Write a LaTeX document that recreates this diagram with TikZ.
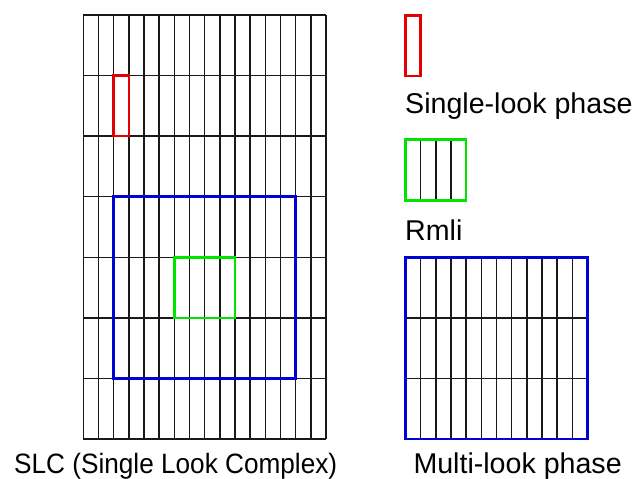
\documentclass[tikz,border=0pt]{standalone}
\usepackage{graphicx}
\usepackage{fontspec}
\setmainfont{Liberation Sans}
\begin{document}
\begin{tikzpicture}[x=1pt,y=-1pt,
  gridline/.style={line width=1.5pt,black!90},
  redbox/.style={draw=red!90!black,line width=2.6pt},
  greenbox/.style={draw=green!90!black,line width=2.6pt},
  bluebox/.style={draw=blue!85!black,line width=2.6pt},
  lbl/.style={inner sep=0pt,anchor=base west,font=\fontsize{28.6}{30}\selectfont}]
\useasboundingbox (0,0) rectangle (638,479);
% main grid
\def\gx{83.3}\def\gy{15}\def\cw{15.17}\def\rh{60.57}
\foreach \i in {0,...,16} \draw[gridline] ({\gx+\i*\cw},\gy) -- ({\gx+\i*\cw},{\gy+7*\rh});
\foreach \j in {0,...,7} \draw[gridline] (\gx,{\gy+\j*\rh}) -- ({\gx+16*\cw},{\gy+\j*\rh});
\draw[redbox] ({\gx+2*\cw},{\gy+\rh}) rectangle ({\gx+3*\cw},{\gy+2*\rh});
\draw[bluebox] ({\gx+2*\cw},{\gy+3*\rh}) rectangle ({\gx+14*\cw},{\gy+6*\rh});
\draw[greenbox] ({\gx+6*\cw},{\gy+4*\rh}) rectangle ({\gx+10*\cw},{\gy+5*\rh});
\node[lbl,font=\fontsize{28}{30}\selectfont] (slc) at (14,473) {\scalebox{0.935}[1]{SLC (Single Look Complex)}};
% legend
\def\lx{405.5}
\draw[redbox] (\lx,15.5) rectangle ({\lx+\cw},76);
\node[lbl] (sl) at (405,113.3) {Single-look phase};
\foreach \i in {1,2,3} \draw[gridline] ({\lx+\i*\cw},139.3) -- ({\lx+\i*\cw},200.7);
\draw[greenbox] (\lx,139.3) rectangle ({\lx+4*\cw},200.7);
\node[lbl] (rm) at (405,240) {Rmli};
\foreach \i in {1,...,11} \draw[gridline] ({\lx+\i*\cw},257.7) -- ({\lx+\i*\cw},439);
\foreach \j in {1,2} \draw[gridline] (\lx,{257.7+\j*60.43}) -- ({\lx+12*\cw},{257.7+\j*60.43});
\draw[bluebox] (\lx,257.7) rectangle ({\lx+12*\cw},439);
\node[lbl] (ml) at (413.3,473) {Multi-look phase};
\end{tikzpicture}
\end{document}
